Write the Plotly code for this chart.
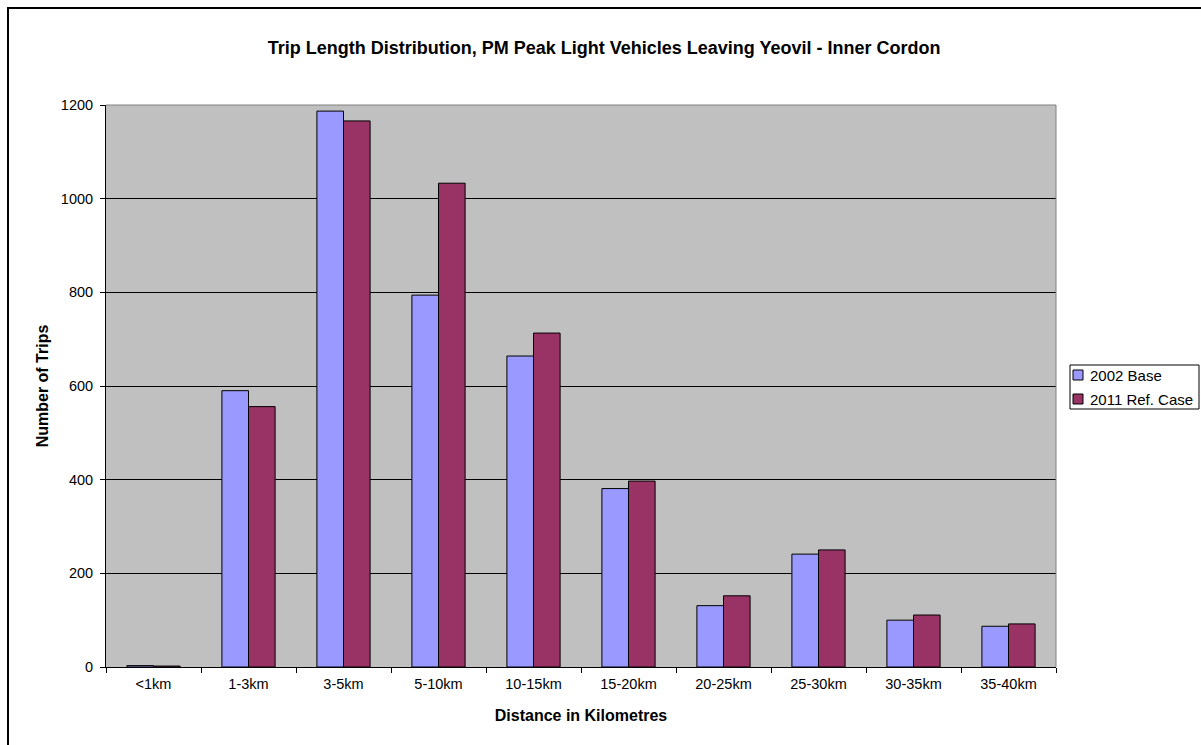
import plotly.graph_objects as go

categories = ["<1km", "1-3km", "3-5km", "5-10km", "10-15km", "15-20km",
              "20-25km", "25-30km", "30-35km", "35-40km"]
base_2002 = [3, 590, 1187, 794, 664, 381, 131, 241, 100, 87]
ref_2011 = [2, 556, 1166, 1033, 713, 397, 152, 250, 111, 92]
y_ticks = [0, 200, 400, 600, 800, 1000, 1200]
series_names = ["2002 Base", "2011 Ref. Case"]
series_colors = ["#9999FF", "#993366"]

W, H = 1201, 745
L, R, T, B = 106, 145, 105, 78
pw, ph = W - L - R, H - T - B


def px(x):
    return (x - L) / pw


def py(y):
    return (H - B - y) / ph


fig = go.Figure()
for name, vals, col in zip(series_names, [base_2002, ref_2011], series_colors):
    fig.add_trace(go.Bar(x=categories, y=vals, name=name,
                         marker=dict(color=col, line=dict(color="black", width=1))))

font = "Liberation Sans, Arial, sans-serif"
fig.update_layout(
    width=W, height=H,
    margin=dict(l=L, r=R, t=T, b=B, pad=0, autoexpand=False),
    paper_bgcolor="white", plot_bgcolor="#C0C0C0",
    font=dict(family=font, size=14, color="black"),
    barmode="group", bargap=0.44, bargroupgap=0,
    title=dict(text="<b>Trip Length Distribution, PM Peak Light Vehicles Leaving Yeovil - Inner Cordon</b>",
               x=0.503, xanchor="center", y=1 - 48 / H, yanchor="middle",
               font=dict(size=18, family=font)),
    xaxis=dict(title=dict(text="<b>Distance in Kilometres</b>", standoff=18, font=dict(size=16)),
               showline=True, linecolor="black", linewidth=1,
               ticks="outside", tickson="boundaries", ticklen=5, tickcolor="black",
               ticklabelstandoff=4, tickfont=dict(size=14.5),
               showgrid=False, fixedrange=True),
    yaxis=dict(title=dict(text="<b>Number of Trips</b>", standoff=8, font=dict(size=16)),
               range=[0, 1200], tickvals=y_ticks, showline=True, linecolor="black", linewidth=1,
               ticks="outside", ticklen=5, tickcolor="black",
               ticklabelstandoff=4, tickfont=dict(size=14.5),
               showgrid=True, gridcolor="black", gridwidth=1, zeroline=False),
    showlegend=False,
)

# grey top/right border of plot area
fig.add_shape(type="line", xref="paper", yref="paper", x0=0, x1=1, y0=1, y1=1,
              line=dict(color="#808080", width=1))
fig.add_shape(type="line", xref="paper", yref="paper", x0=1, x1=1, y0=0, y1=1,
              line=dict(color="#808080", width=1))
# outer chart frame
fig.add_shape(type="rect", xref="paper", yref="paper",
              x0=px(8), x1=px(1210), y0=py(760), y1=py(8),
              line=dict(color="black", width=2), fillcolor="rgba(0,0,0,0)")

# legend box (drawn manually to match the reference's compact layout)
fig.add_shape(type="rect", xref="paper", yref="paper",
              x0=px(1070), x1=px(1199), y0=py(409), y1=py(365),
              line=dict(color="black", width=1), fillcolor="white")
for i, (name, col) in enumerate(zip(series_names, series_colors)):
    cy = 375 + 24 * i
    fig.add_shape(type="rect", xref="paper", yref="paper",
                  x0=px(1073), x1=px(1083), y0=py(cy + 5), y1=py(cy - 5),
                  line=dict(color="black", width=1), fillcolor=col)
    fig.add_annotation(xref="paper", yref="paper", x=px(1088), y=py(cy),
                       xanchor="left", yanchor="middle", showarrow=False,
                       text=name, font=dict(size=15, family=font, color="black"))

fig.write_html("out.html")
